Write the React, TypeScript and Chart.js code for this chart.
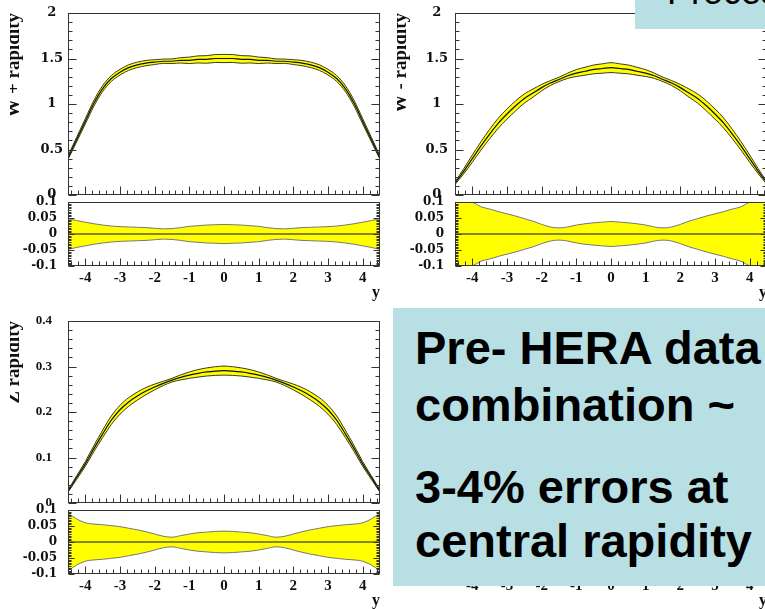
import React, { useEffect, useRef } from "react";
import { Chart, registerables } from "chart.js";

Chart.register(...registerables);

// ---------------- data ----------------
const RAPIDITY = [
  -4.5, -4.25, -4.0, -3.75, -3.5, -3.25, -3.0, -2.75, -2.5, -2.25, -2.0, -1.75, -1.5, -1.25, -1.0, -0.75, -0.5, -0.25,
  0.0, 0.25, 0.5, 0.75, 1.0, 1.25, 1.5, 1.75, 2.0, 2.25, 2.5, 2.75, 3.0, 3.25, 3.5, 3.75, 4.0, 4.25, 4.5,
];

const WPLUS_CENTRAL = [
  0.41, 0.61, 0.81, 1.01, 1.17, 1.28, 1.35, 1.40, 1.43, 1.45, 1.46, 1.47, 1.47, 1.48, 1.48, 1.49, 1.49, 1.50,
  1.50, 1.50, 1.49, 1.49, 1.48, 1.48, 1.47, 1.47, 1.46, 1.45, 1.43, 1.40, 1.35, 1.28, 1.17, 1.01, 0.81, 0.61, 0.41,
];
const WPLUS_REL_ERR = [
  0.048, 0.042, 0.037, 0.032, 0.028, 0.025, 0.023, 0.022, 0.021, 0.020, 0.018, 0.016, 0.017, 0.020, 0.024, 0.026, 0.028, 0.029,
  0.030, 0.029, 0.028, 0.026, 0.024, 0.020, 0.017, 0.016, 0.018, 0.020, 0.021, 0.022, 0.023, 0.025, 0.028, 0.032, 0.037, 0.042, 0.048,
];

const WMINUS_CENTRAL = [
  0.13, 0.26, 0.40, 0.54, 0.67, 0.79, 0.89, 0.98, 1.06, 1.12, 1.18, 1.23, 1.27, 1.31, 1.34, 1.36, 1.38, 1.39,
  1.40, 1.39, 1.38, 1.36, 1.34, 1.31, 1.27, 1.23, 1.18, 1.12, 1.06, 0.98, 0.89, 0.79, 0.67, 0.54, 0.40, 0.26, 0.13,
];
const WMINUS_REL_ERR = [
  0.115, 0.108, 0.100, 0.085, 0.078, 0.070, 0.063, 0.056, 0.048, 0.040, 0.030, 0.022, 0.019, 0.022, 0.028, 0.032, 0.035, 0.037,
  0.039, 0.037, 0.035, 0.032, 0.028, 0.022, 0.019, 0.022, 0.030, 0.040, 0.048, 0.056, 0.063, 0.070, 0.078, 0.085, 0.100, 0.108, 0.115,
];

const Z_CENTRAL = [
  0.026, 0.056, 0.086, 0.120, 0.152, 0.182, 0.205, 0.222, 0.235, 0.246, 0.255, 0.263, 0.270, 0.276, 0.281, 0.285, 0.288, 0.290,
  0.291, 0.290, 0.288, 0.285, 0.281, 0.276, 0.270, 0.263, 0.255, 0.246, 0.235, 0.222, 0.205, 0.182, 0.152, 0.120, 0.086, 0.056, 0.026,
];
const Z_REL_ERR = [
  0.090, 0.072, 0.060, 0.056, 0.054, 0.051, 0.048, 0.043, 0.038, 0.032, 0.025, 0.018, 0.015, 0.020, 0.025, 0.029, 0.031, 0.033,
  0.034, 0.033, 0.031, 0.029, 0.025, 0.020, 0.015, 0.018, 0.025, 0.032, 0.038, 0.043, 0.048, 0.051, 0.054, 0.056, 0.060, 0.072, 0.090,
];

const RATIO_CENTRAL = [
  0, 0, 0, 0, 0, 0, 0, 0, 0, 0, 0, 0, 0, 0, 0, 0, 0, 0, 0, 0, 0, 0, 0, 0, 0, 0, 0, 0, 0, 0, 0, 0, 0, 0, 0, 0, 0,
];

const X_TICKS = [-4, -3, -2, -1, 0, 1, 2, 3, 4];
const X_TICK_LABELS = ["-4", "-3", "-2", "-1", "0", "1", "2", "3", "4"];
const W_Y_TICKS = [0, 0.5, 1, 1.5, 2];
const W_Y_LABELS = ["0", "0.5", "1", "1.5", "2"];
const Z_Y_TICKS = [0, 0.1, 0.2, 0.3, 0.4];
const Z_Y_LABELS = ["0", "0.1", "0.2", "0.3", "0.4"];
const R_Y_TICKS = [-0.1, -0.05, 0, 0.05, 0.1];
const R_Y_LABELS = ["-0.1", "-0.05", "0", "0.05", "0.1"];

const TITLES = {
  wplus: "W + rapidity",
  wminus: "W - rapidity",
  z: "Z rapidity",
  x: "y",
};

// ---------------- styling / layout ----------------
const SERIF = "'Liberation Serif', 'Times New Roman', serif";
const SERIF_WIDE = "'DejaVu Serif', 'Liberation Serif', serif";
const SANS = "'Liberation Sans', Arial, Helvetica, sans-serif";
const YELLOW = "#ffff00";
const FRAME = "#333333";
const BOX_BG = "#b8dfe4";

const Y_AXIS_W = 58;
const PAD_T = 12;
const PAD_R = 6;
const X_AXIS_H_LABELS = 36;
const X_AXIS_H_NONE = 12;

const rootFramePlugin = {
  id: "rootFrame",
  afterDatasetsDraw(chart: any, _args: any, opts: any) {
    const { ctx, chartArea: a, scales } = chart;
    const xs = scales.x;
    const ys = scales.y;
    ctx.save();
    ctx.strokeStyle = FRAME;
    ctx.lineWidth = 1;
    const L = Math.round(a.left) + 0.5;
    const T = Math.round(a.top) + 0.5;
    const R = Math.round(a.right) - 0.5;
    const B = Math.round(a.bottom) - 0.5;
    ctx.beginPath();
    const y0 = Math.ceil(ys.min / opts.yMinor - 1e-6);
    const y1 = Math.floor(ys.max / opts.yMinor + 1e-6);
    for (let k = y0; k <= y1; k++) {
      const v = k * opts.yMinor;
      const r = v / opts.yMajor;
      const major = Math.abs(r - Math.round(r)) < 1e-6;
      const len = major ? opts.yMajorLen : opts.yMinorLen;
      const py = Math.round(ys.getPixelForValue(v)) + 0.5;
      ctx.moveTo(L, py);
      ctx.lineTo(L + len, py);
      ctx.moveTo(R, py);
      ctx.lineTo(R - len, py);
    }
    const x0 = Math.ceil(xs.min / opts.xMinor - 1e-6);
    const x1 = Math.floor(xs.max / opts.xMinor + 1e-6);
    for (let k = x0; k <= x1; k++) {
      const v = k * opts.xMinor;
      const r = v / opts.xMajor;
      const major = Math.abs(r - Math.round(r)) < 1e-6;
      const len = major ? opts.xMajorLen : opts.xMinorLen;
      const px = Math.round(xs.getPixelForValue(v)) + 0.5;
      ctx.moveTo(px, B);
      ctx.lineTo(px, B - len);
    }
    ctx.stroke();
    ctx.strokeRect(L, T, R - L, B - T);
    ctx.restore();
  },
};

type PanelSpec = {
  left: number;
  top: number;
  width: number;
  height: number;
  yMin: number;
  yMax: number;
  yTicks: number[];
  yLabels: string[];
  yMinor: number;
  yMajorLen: number;
  yMinorLen: number;
  yFont: any;
  yPad: number;
  yAlign: string;
  xLabels: boolean;
  yTitle?: string;
  central?: number[];
  upper?: number[];
  lower?: number[];
  edgeColor?: string;
};

function toPoints(vals: number[]) {
  return RAPIDITY.map((x, i) => ({ x, y: vals[i] }));
}

function Panel({ spec }: { spec: PanelSpec }) {
  const ref = useRef<HTMLCanvasElement | null>(null);
  const xH = spec.xLabels ? X_AXIS_H_LABELS : X_AXIS_H_NONE;
  const cw = Y_AXIS_W + spec.width + PAD_R;
  const ch = PAD_T + spec.height + xH;

  useEffect(() => {
    if (!ref.current) return;
    const datasets: any[] = [];
    if (spec.central) {
      datasets.push({
        data: toPoints(spec.central),
        borderColor: "#111111",
        borderWidth: 1.2,
        fill: false,
        pointRadius: 0,
        cubicInterpolationMode: "monotone",
      });
    }
    if (spec.upper && spec.lower) {
      datasets.push({
        data: toPoints(spec.upper),
        borderColor: spec.edgeColor,
        borderWidth: 1,
        backgroundColor: YELLOW,
        fill: "+1",
        pointRadius: 0,
        cubicInterpolationMode: "monotone",
      });
      datasets.push({
        data: toPoints(spec.lower),
        borderColor: spec.edgeColor,
        borderWidth: 1,
        fill: false,
        pointRadius: 0,
        cubicInterpolationMode: "monotone",
      });
    }
    const xFont = { family: SERIF, size: 15, weight: "bold" as const };
    const chart = new Chart(ref.current, {
      type: "line",
      data: { datasets },
      plugins: [rootFramePlugin as any],
      options: {
        animation: false,
        responsive: false,
        maintainAspectRatio: false,
        events: [],
        layout: { padding: { top: PAD_T, right: PAD_R, left: 0, bottom: 0 } },
        plugins: {
          legend: { display: false },
          tooltip: { enabled: false },
          filler: { drawTime: "beforeDatasetsDraw" },
          rootFrame: {
            yMajor: spec.yTicks[1] - spec.yTicks[0],
            yMinor: spec.yMinor,
            yMajorLen: spec.yMajorLen,
            yMinorLen: spec.yMinorLen,
            xMajor: 1,
            xMinor: 0.2,
            xMajorLen: spec.xLabels ? 7 : 8,
            xMinorLen: 4,
          },
        } as any,
        scales: {
          x: {
            type: "linear",
            min: -4.5,
            max: 4.5,
            afterBuildTicks: (s: any) => {
              s.ticks = X_TICKS.map((v) => ({ value: v }));
            },
            afterFit: (s: any) => {
              s.height = xH;
              s.paddingLeft = 0;
              s.paddingRight = 0;
            },
            grid: { display: false, drawTicks: false },
            border: { display: false },
            ticks: {
              display: spec.xLabels,
              autoSkip: false,
              maxRotation: 0,
              padding: 3,
              font: xFont,
              color: "#111",
              callback: (_v: any, i: number) => X_TICK_LABELS[i],
            },
            title: {
              display: spec.xLabels,
              text: TITLES.x,
              align: "end",
              color: "#111",
              font: { family: SERIF, size: 16, weight: "bold" },
              padding: { top: 0, bottom: 0 },
            },
          },
          y: {
            type: "linear",
            min: spec.yMin,
            max: spec.yMax,
            afterBuildTicks: (s: any) => {
              s.ticks = spec.yTicks.map((v) => ({ value: v }));
            },
            afterFit: (s: any) => {
              s.width = Y_AXIS_W;
              s.paddingTop = 0;
              s.paddingBottom = 0;
            },
            grid: { display: false, drawTicks: false },
            border: { display: false },
            ticks: {
              autoSkip: false,
              padding: spec.yPad,
              crossAlign: spec.yAlign,
              font: spec.yFont,
              color: "#111",
              callback: (_v: any, i: number) => spec.yLabels[i],
            },
            title: {
              display: !!spec.yTitle,
              text: spec.yTitle || "",
              align: "end",
              color: "#111",
              font: { family: SERIF, size: 19, weight: "bold" },
              padding: { top: -7, bottom: 0 },
            },
          },
        },
      } as any,
    });
    return () => chart.destroy();
  }, []);

  return (
    <canvas
      ref={ref}
      width={cw}
      height={ch}
      style={{
        position: "absolute",
        left: spec.left - Y_AXIS_W,
        top: spec.top - PAD_T,
        width: cw,
        height: ch,
      }}
    />
  );
}

function band(central: number[], err: number[], sign: number) {
  return central.map((c, i) => c * (1 + sign * err[i]));
}
function neg(arr: number[]) {
  return arr.map((v) => -v);
}

const W_LABEL_FONT = { family: SERIF_WIDE, size: 13, weight: "bold" };
const Z_LABEL_FONT = { family: SERIF, size: 13, weight: "bold" };
const R_LABEL_FONT = { family: SERIF_WIDE, size: 12, weight: "bold" };

const mainCommon = { width: 312, height: 182, xLabels: false, yMajorLen: 8, yMinorLen: 4, edgeColor: "#3a3a2a" };
const ratioCommon = {
  width: 312,
  height: 64,
  xLabels: true,
  yMin: -0.1,
  yMax: 0.1,
  yTicks: R_Y_TICKS,
  yLabels: R_Y_LABELS,
  yMinor: 0.005,
  yMajorLen: 6,
  yMinorLen: 3,
  yFont: R_LABEL_FONT,
  yPad: 11,
  yAlign: "near",
  edgeColor: "#777",
};

const PANELS: PanelSpec[] = [
  {
    ...mainCommon,
    left: 68,
    top: 13,
    yMin: 0,
    yMax: 2,
    yTicks: W_Y_TICKS,
    yLabels: W_Y_LABELS,
    yMinor: 0.1,
    yFont: W_LABEL_FONT,
    yPad: 5,
    yAlign: "center",
    yTitle: TITLES.wplus,
    central: WPLUS_CENTRAL,
    upper: band(WPLUS_CENTRAL, WPLUS_REL_ERR, 1),
    lower: band(WPLUS_CENTRAL, WPLUS_REL_ERR, -1),
  },
  {
    ...ratioCommon,
    left: 68,
    top: 202,
    central: RATIO_CENTRAL,
    upper: WPLUS_REL_ERR,
    lower: neg(WPLUS_REL_ERR),
  },
  {
    ...mainCommon,
    left: 455,
    top: 13,
    yMin: 0,
    yMax: 2,
    yTicks: W_Y_TICKS,
    yLabels: W_Y_LABELS,
    yMinor: 0.1,
    yFont: W_LABEL_FONT,
    yPad: 7,
    yAlign: "center",
    yTitle: TITLES.wminus,
    central: WMINUS_CENTRAL,
    upper: band(WMINUS_CENTRAL, WMINUS_REL_ERR, 1),
    lower: band(WMINUS_CENTRAL, WMINUS_REL_ERR, -1),
  },
  {
    ...ratioCommon,
    left: 455,
    top: 202,
    central: RATIO_CENTRAL,
    upper: WMINUS_REL_ERR,
    lower: neg(WMINUS_REL_ERR),
  },
  {
    ...mainCommon,
    left: 68,
    top: 321,
    yMin: 0,
    yMax: 0.4,
    yTicks: Z_Y_TICKS,
    yLabels: Z_Y_LABELS,
    yMinor: 0.02,
    yFont: Z_LABEL_FONT,
    yPad: 16,
    yAlign: "near",
    yTitle: TITLES.z,
    central: Z_CENTRAL,
    upper: band(Z_CENTRAL, Z_REL_ERR, 1),
    lower: band(Z_CENTRAL, Z_REL_ERR, -1),
  },
  {
    ...ratioCommon,
    left: 68,
    top: 510,
    central: RATIO_CENTRAL,
    upper: Z_REL_ERR,
    lower: neg(Z_REL_ERR),
  },
  {
    // panel hidden behind the text box; only its x axis peeks out
    ...ratioCommon,
    left: 455,
    top: 510,
  },
];

const BOX_LINES = [
  { text: "Pre- HERA data", baseline: 56 },
  { text: "combination ~", baseline: 113 },
  { text: "3-4% errors at", baseline: 195 },
  { text: "central rapidity", baseline: 249 },
];
const BOX_FONT = 47;

export default function App() {
  return (
    <div
      style={{
        position: "absolute",
        left: 0,
        top: 0,
        width: 765,
        height: 609,
        overflow: "hidden",
        background: "#ffffff",
      }}
    >
      {PANELS.map((p, i) => (
        <Panel key={i} spec={p} />
      ))}
      <div
        style={{
          position: "absolute",
          left: 393,
          top: 308,
          width: 372,
          height: 278,
          background: BOX_BG,
          overflow: "hidden",
        }}
      >
        {BOX_LINES.map((l, i) => (
          <div
            key={i}
            style={{
              position: "absolute",
              left: 22,
              top: l.baseline - 0.8465 * BOX_FONT,
              fontFamily: SANS,
              fontWeight: "bold",
              fontSize: BOX_FONT,
              lineHeight: 1,
              whiteSpace: "nowrap",
              color: "#000",
            }}
          >
            {l.text}
          </div>
        ))}
      </div>
      <div
        style={{
          position: "absolute",
          left: 635,
          top: 0,
          width: 130,
          height: 29,
          background: BOX_BG,
          overflow: "hidden",
        }}
      >
        <div
          style={{
            position: "absolute",
            left: 32,
            top: 4 - 0.8465 * 36,
            fontFamily: SANS,
            fontSize: 36,
            lineHeight: 1,
            whiteSpace: "nowrap",
            color: "#000",
          }}
        >
          Process
        </div>
      </div>
    </div>
  );
}
